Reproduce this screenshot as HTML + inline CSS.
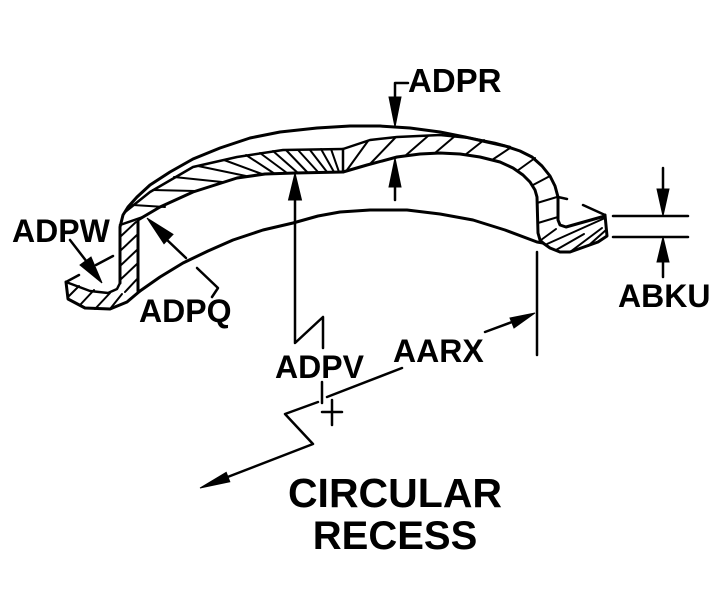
<!DOCTYPE html>
<html>
<head>
<meta charset="utf-8">
<style>
html,body{margin:0;padding:0;background:#fff;}
svg{display:block;}
text{font-family:"Liberation Sans",Arial,sans-serif;font-weight:bold;fill:#000;}
</style>
</head>
<body>
<svg width="717" height="613" viewBox="0 0 717 613" xmlns="http://www.w3.org/2000/svg">
<rect width="717" height="613" fill="#fff"/>
<g fill="none" stroke="#000" stroke-linejoin="round" stroke-linecap="round">
  <!-- outer top surface + right wall + right flange inner -->
  <polyline stroke-width="3" points="120,283 120,227 123,215 128,207 137,197 150,185 170,172 193,159 220,148 250,138 280,132 317,128 350,126 380,126 410,128 440,132 465,137 487,142 505,146 520,151 532,157 542,166 550,176 555,186 558,197 558,220 560,225 566,227 605,216"/>
  <line stroke-width="2.5" x1="558" y1="197" x2="567" y2="199"/>
  <!-- right flange -->
  <line stroke-width="2.5" x1="583" y1="205" x2="605" y2="215"/>
  <polyline stroke-width="3" points="605,215 607,236 598,242 570,252 560,252 550,248 543,243"/>
  <line stroke-width="2" x1="547" y1="244" x2="605" y2="218"/>
  <!-- inner wall / strip lower edge right -->
  <polyline stroke-width="3" points="343,172 367,165 397,157 420,154 440,153 460,154 480,157 500,162 513,168 523,175 530,182 535,190 537,197 538,233 540,240 543,243"/>
  <!-- lower band curve -->
  <polyline stroke-width="3" points="140,291 160,277 183,263 208,251 233,240 263,230 293,223 318,216 340,212 370,210 407,210 440,214 473,220 505,230 537,242 543,243"/>
  <!-- U2 -->
  <polyline stroke-width="2.5" points="343,149 370,140 397,137 440,135 470,138 495,143 510,147"/>
  <line stroke-width="2.5" x1="343" y1="149" x2="343" y2="172"/>
  <!-- L1 -->
  <polyline stroke-width="3" points="138,220 143,217 160,207 193,192 237,178 265,174 295,173 343,172"/>
  <!-- U1 -->
  <polyline stroke-width="2.5" points="125,212 150,192 193,167 237,157 283,150 343,149"/>
  <!-- left wall -->
  <line stroke-width="2.5" x1="120" y1="225" x2="143" y2="217"/>
  <line stroke-width="3" x1="138" y1="220" x2="138" y2="291"/>
  <!-- left flange -->
  <polyline stroke-width="2.5" points="120,283 117,289 108,293 90,291 66,282"/>
  <line stroke-width="2.5" x1="66" y1="282" x2="79" y2="275"/>
  <line stroke-width="2.5" x1="96" y1="265" x2="113" y2="256"/>
  <polyline stroke-width="3" points="66,282 68,299 85,308 110,309 127,302 140,291"/>

  <!-- hatching: left wall -->
  <g stroke-width="2">
    <line x1="120" y1="237" x2="136" y2="222"/>
    <line x1="120" y1="251" x2="138" y2="234"/>
    <line x1="120" y1="266" x2="138" y2="249"/>
    <line x1="120" y1="280" x2="138" y2="263"/>
    <line x1="125" y1="292" x2="138" y2="278"/>
    <!-- left flange -->
    <line x1="68" y1="297" x2="79" y2="286"/>
    <line x1="80" y1="305" x2="94" y2="290"/>
    <line x1="95" y1="309" x2="110" y2="293"/>
    <line x1="110" y1="309" x2="122" y2="294"/>
    <!-- left curved section -->
    <line x1="133" y1="205" x2="165" y2="207"/>
    <line x1="153" y1="190" x2="195" y2="191"/>
    <line x1="174" y1="177" x2="222" y2="182"/>
    <line x1="198" y1="166" x2="246" y2="176"/>
    <line x1="224" y1="160" x2="262" y2="174"/>
    <!-- middle strip "\" -->
    <line x1="246" y1="155" x2="275" y2="174"/>
    <line x1="260" y1="153" x2="287" y2="173"/>
    <line x1="273" y1="151" x2="298" y2="173"/>
    <line x1="286" y1="150" x2="308" y2="173"/>
    <line x1="298" y1="150" x2="318" y2="172"/>
    <line x1="310" y1="150" x2="327" y2="172"/>
    <line x1="321" y1="149" x2="334" y2="172"/>
    <line x1="331" y1="149" x2="339" y2="172"/>
    <!-- right strip "/" -->
    <line x1="347" y1="170" x2="368" y2="141"/>
    <line x1="370" y1="164" x2="395" y2="138"/>
    <line x1="405" y1="156" x2="428" y2="136"/>
    <line x1="435" y1="153" x2="455" y2="136"/>
    <line x1="465" y1="155" x2="484" y2="140"/>
    <line x1="492" y1="160" x2="510" y2="148"/>
    <!-- right wall -->
    <line x1="517" y1="171" x2="535" y2="158"/>
    <line x1="533" y1="185" x2="550" y2="176"/>
    <line x1="537" y1="203" x2="557" y2="197"/>
    <line x1="538" y1="223" x2="558" y2="217"/>
    <line x1="541" y1="240" x2="556" y2="229"/>
    <!-- right flange -->
    <line x1="556" y1="250" x2="584" y2="234"/>
    <line x1="570" y1="252" x2="602" y2="228"/>
    <line x1="588" y1="246" x2="606" y2="230"/>
  </g>

  <!-- ADPR leader -->
  <polyline stroke-width="2.5" points="408,83 395,83 395,98"/>
  <line stroke-width="2.5" x1="395" y1="186" x2="395" y2="200"/>
  <!-- ADPV leader -->
  <polyline stroke-width="2.5" points="295,198 295,343 323,317 323,348"/>
  <line stroke-width="2.5" x1="322" y1="382" x2="322" y2="403"/>
  <line stroke-width="2.5" x1="322" y1="412" x2="342" y2="412"/>
  <line stroke-width="2.5" x1="332" y1="400" x2="332" y2="425"/>
  <!-- AARX leader -->
  <line stroke-width="2.5" x1="402" y1="368" x2="327" y2="397"/>
  <polyline stroke-width="2.5" points="318,402 285,414 313,444 225,478"/>
  <line stroke-width="2.5" x1="485" y1="332" x2="512" y2="322"/>
  <line stroke-width="2.5" x1="537" y1="252" x2="537" y2="355"/>
  <!-- ABKU -->
  <line stroke-width="2.5" x1="613" y1="216" x2="688" y2="216"/>
  <line stroke-width="2.5" x1="613" y1="237" x2="688" y2="237"/>
  <line stroke-width="2.5" x1="663" y1="168" x2="663" y2="190"/>
  <line stroke-width="2.5" x1="663" y1="260" x2="663" y2="277"/>
  <!-- ADPW leader -->
  <line stroke-width="2.5" x1="70" y1="240" x2="87" y2="262"/>
  <!-- ADPQ leader -->
  <line stroke-width="2.5" x1="165" y1="238" x2="186" y2="258"/>
  <polyline stroke-width="2.5" points="197,268 218,288 212,297"/>
</g>

<!-- arrowheads -->
<g fill="#000" stroke="#000" stroke-width="1" stroke-linejoin="miter">
  <polygon points="395,127 389,97 401,97"/>
  <polygon points="395,158 389,187 401,187"/>
  <polygon points="295,173 288.5,200 301.5,200"/>
  <polygon points="663,216 657,189 669,189"/>
  <polygon points="663,237 657,262 669,262"/>
  <polygon points="535,313 510,318 514,328"/>
  <polygon points="200,488 226.2,472.3 229.8,481.7"/>
  <polygon points="102,283 80,265 91,257"/>
  <polygon points="147,218 164,243.7 173,234.3"/>
</g>

<!-- labels -->
<text x="408" y="92" font-size="33">ADPR</text>
<text x="12" y="242" font-size="32">ADPW</text>
<text x="139" y="322" font-size="32">ADPQ</text>
<text x="275" y="378" font-size="32">ADPV</text>
<text x="393" y="362" font-size="32">AARX</text>
<text x="618" y="307" font-size="32">ABKU</text>
<text x="395" y="507" font-size="41" text-anchor="middle">CIRCULAR</text>
<text x="395" y="549" font-size="40" text-anchor="middle">RECESS</text>
</svg>
</body>
</html>
